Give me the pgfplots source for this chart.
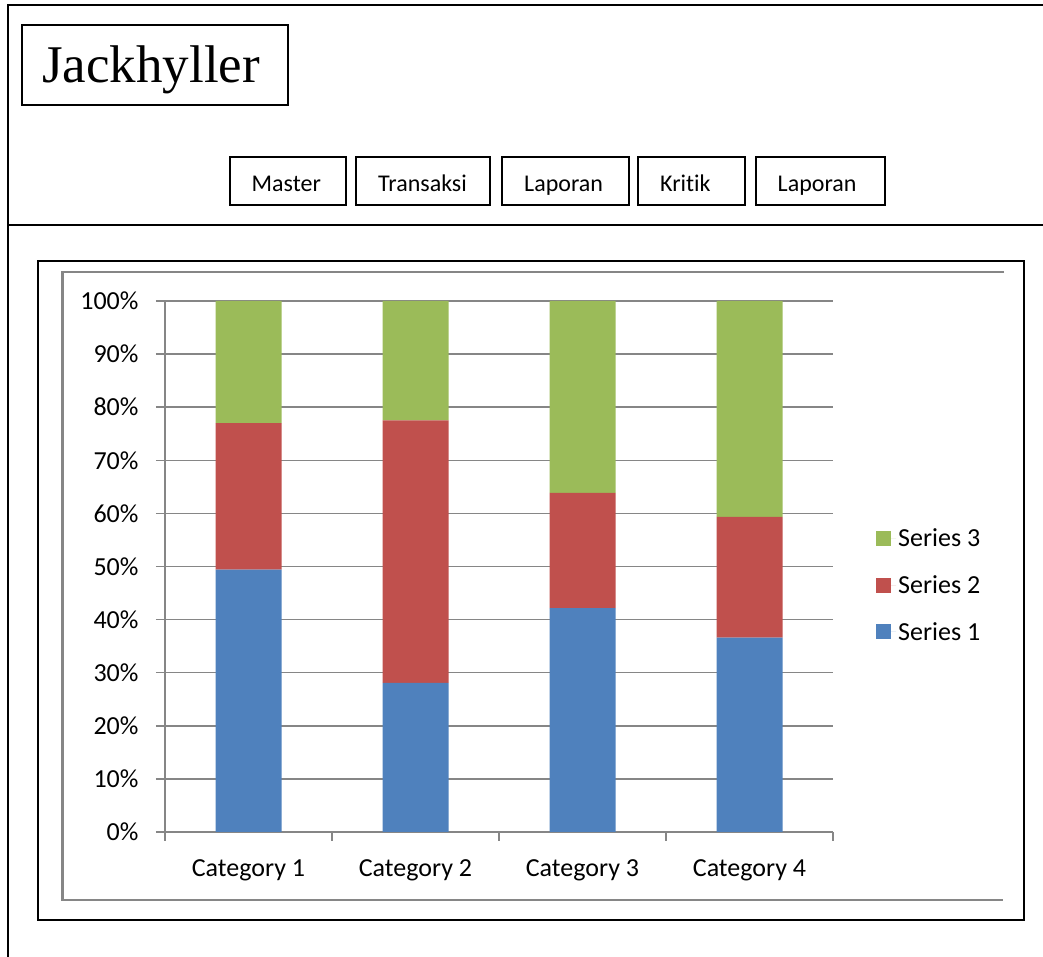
\documentclass[border=0pt]{standalone}
\usepackage{fontspec}
\setmainfont{Carlito}[Ligatures=NoCommon]
\newfontfamily\timesfont{Liberation Serif}
\usepackage{pgfplots}
\pgfplotsset{compat=1.18}
\definecolor{s1}{HTML}{4F81BD}
\definecolor{s2}{HTML}{C0504D}
\definecolor{s3}{HTML}{9BBB59}
\definecolor{gridgray}{HTML}{868686}
\newcommand\cfont{\fontsize{26}{31}\selectfont}
\newcommand\bfont{\fontsize{24}{29}\selectfont}
\begin{document}
\begin{tikzpicture}[x=1pt,y=1pt]
\useasboundingbox (0,0) rectangle (1043,957);
% outer frame
\draw[line width=2pt] (8,0) -- (8,952) -- (1043,952);
\draw[line width=2pt] (8,732) -- (1043,732);
% title box
\draw[line width=2pt] (22,932) rectangle (288,852);
\node[anchor=base west, inner sep=0pt, font=\timesfont\fontsize{53}{60}\selectfont] at (42,874) {Jackhyller};
% buttons
\foreach \xa/\xb/\lab in {229.5/346/Master, 356/490/Transaksi, 502/628.5/Laporan, 638/745/Kritik, 755.5/884.5/Laporan}{
  \draw[line width=2pt] (\xa,800) rectangle (\xb,752);
  \node[anchor=base west, inner sep=0pt, font=\bfont] at (\xa+22,765) {\lab};
}
% inner box
\draw[line width=2.5pt] (38,696) rectangle (1024,37);
\draw[gridgray, line width=2.5pt] (1004,685) -- (62.5,685) -- (62.5,57) -- (1003,57);
\begin{axis}[
  at={(165pt,125pt)}, anchor=south west,
  scale only axis, width=668pt, height=531pt,
  xmin=-0.5, xmax=3.5, ymin=0, ymax=100,
  ybar stacked, bar width=66pt,
  axis lines*=left,
  tick align=outside,
  ytick={0,10,...,100},
  yticklabels={0\%,10\%,20\%,30\%,40\%,50\%,60\%,70\%,80\%,90\%,100\%},
  yticklabel style={xshift=-14pt},
  xtick={-0.5,0.5,1.5,2.5,3.5},
  xticklabels={},
  extra x ticks={0,1,2,3},
  extra x tick labels={Category 1,Category 2,Category 3,Category 4},
  extra x tick style={major tick length=0pt, grid=none, tick label style={yshift=-24pt}},
  ymajorgrids,
  grid style={gridgray, line width=1.5pt},
  axis line style={gridgray, line width=1.5pt},
  tick style={gridgray, line width=1.5pt},
  major tick length=9pt,
  tick label style={font=\cfont, text=black},
  reverse legend,
  legend style={draw=none, fill=none, at={(1,0.465)}, anchor=west, xshift=43pt,
    font=\cfont, row sep=23.5pt, inner sep=0pt},
  legend cell align=left,
  legend image code/.code={\fill[#1, draw=none] (0pt,-7.5pt) rectangle (15pt,7.5pt); \path (0pt,0pt) -- (20pt,0pt);},
]
\addplot[fill=s1, draw=none] coordinates {(0,49.43) (1,28.09) (2,42.17) (3,36.59)};
\addplot[fill=s2, draw=none] coordinates {(0,27.59) (1,49.44) (2,21.69) (3,22.76)};
\addplot[fill=s3, draw=none] coordinates {(0,22.99) (1,22.47) (2,36.14) (3,40.65)};
\legend{Series 1,Series 2,Series 3}
\end{axis}
\end{tikzpicture}
\end{document}
